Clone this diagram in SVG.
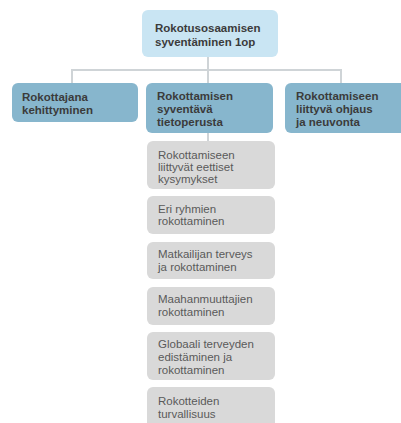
<svg xmlns="http://www.w3.org/2000/svg" width="401" height="423" viewBox="0 0 401 423">
<style>
.t{font-family:"Liberation Sans",Arial,sans-serif;font-size:11.5px}
.b{font-weight:bold;fill:#3b3b3b}
.r{fill:#5a5a5a}
.top{fill:#c9e5f3}
.mid{fill:#87b6cd}
.sub{fill:#d9d9d9}
.c{stroke:#cfd4d7;stroke-width:2;fill:none}
</style>
<rect width="401" height="423" fill="#ffffff"/>
<g id="connectors">
<path class="c" d="M208,57V70M72,83V70H341V83M208,70V83M208,133V141"/>
</g>
<g id="n0">
<rect class="top" x="142" y="10" width="136" height="47" rx="6"/>
<text class="t b" x="155" y="32">Rokotusosaamisen</text>
<text class="t b" x="155" y="46">syventäminen 1op</text>
</g>
<g id="n1">
<rect class="mid" x="12" y="83" width="126" height="39" rx="6"/>
<text class="t b" x="22" y="101">Rokottajana</text>
<text class="t b" x="22" y="113.5">kehittyminen</text>
</g>
<g id="n2">
<rect class="mid" x="146" y="83" width="127" height="50" rx="6"/>
<text class="t b" x="157" y="100">Rokottamisen</text>
<text class="t b" x="157" y="113">syventävä</text>
<text class="t b" x="157" y="126">tietoperusta</text>
</g>
<g id="n3">
<rect class="mid" x="285" y="83" width="122" height="50" rx="6"/>
<text class="t b" x="296" y="100">Rokottamiseen</text>
<text class="t b" x="296" y="113">liittyvä ohjaus</text>
<text class="t b" x="296" y="126">ja neuvonta</text>
</g>
<g id="s1">
<rect class="sub" x="147" y="141" width="128" height="48" rx="6"/>
<text class="t r" x="158" y="159">Rokottamiseen</text>
<text class="t r" x="158" y="171">liittyvät eettiset</text>
<text class="t r" x="158" y="183">kysymykset</text>
</g>
<g id="s2">
<rect class="sub" x="147" y="196" width="128" height="38" rx="6"/>
<text class="t r" x="158" y="213">Eri ryhmien</text>
<text class="t r" x="158" y="225">rokottaminen</text>
</g>
<g id="s3">
<rect class="sub" x="147" y="242" width="128" height="37" rx="6"/>
<text class="t r" x="158" y="258">Matkailijan terveys</text>
<text class="t r" x="158" y="271">ja rokottaminen</text>
</g>
<g id="s4">
<rect class="sub" x="147" y="287" width="128" height="38" rx="6"/>
<text class="t r" x="158" y="303">Maahanmuuttajien</text>
<text class="t r" x="158" y="316">rokottaminen</text>
</g>
<g id="s5">
<rect class="sub" x="147" y="332" width="128" height="48" rx="6"/>
<text class="t r" x="158" y="348">Globaali terveyden</text>
<text class="t r" x="158" y="361">edistäminen ja</text>
<text class="t r" x="158" y="374">rokottaminen</text>
</g>
<g id="s6">
<rect class="sub" x="147" y="387" width="128" height="44" rx="6"/>
<text class="t r" x="158" y="405">Rokotteiden</text>
<text class="t r" x="158" y="418">turvallisuus</text>
</g>
</svg>
